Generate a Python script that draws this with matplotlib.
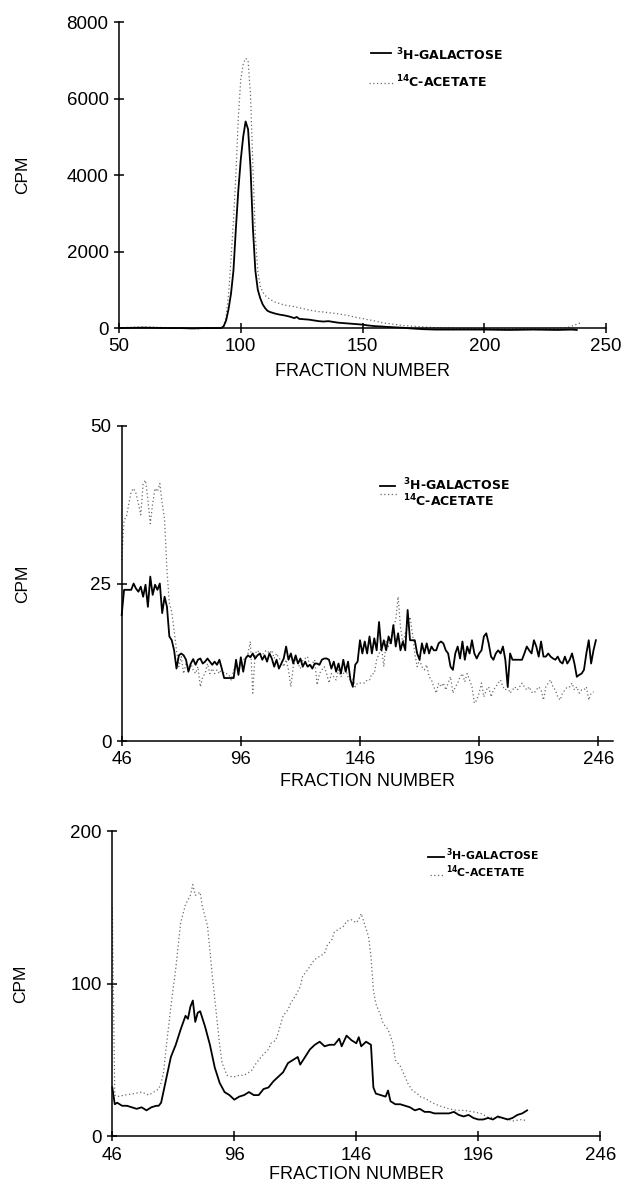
import numpy as np
import matplotlib.pyplot as plt
from matplotlib.lines import Line2D

plt.rcParams['font.family'] = ['Liberation Sans', 'DejaVu Sans']
plt.rcParams['mathtext.fontset'] = 'custom'
plt.rcParams['mathtext.rm'] = 'Liberation Sans'

# ---- panel 1 (fractions 50-250) ----
top_frac_gal = [50, 55, 60, 65, 70, 75, 80, 85, 90, 92, 93, 94, 95, 96, 97, 98, 99, 100,
                101, 102, 103, 104, 105, 106, 107, 108, 109, 110, 111, 112, 114, 116, 118,
                120, 122, 123, 124, 126, 128, 130, 132, 134, 136, 138, 140, 142, 144, 146,
                148, 150, 152, 155, 158, 160, 163, 166, 170, 175, 180, 190, 200, 210, 220,
                230, 236, 238]
top_gal = [0, 5, 10, 5, 0, 0, -10, 0, 0, 0, 50, 200, 500, 900, 1500, 2600, 3600, 4400,
           5000, 5400, 5200, 4200, 2600, 1500, 1000, 780, 620, 520, 450, 420, 380, 350, 330,
           300, 260, 290, 240, 230, 220, 200, 180, 170, 180, 160, 140, 130, 120, 110,
           100, 90, 70, 50, 40, 30, 20, 10, -10, -30, -40, -40, -40, -50, -40,
           -50, -40, -50]

top_frac_ace = [50, 55, 60, 63, 65, 70, 75, 80, 83, 85, 88, 90, 92, 93, 94, 95, 96, 97, 98,
                99, 100, 101, 102, 103, 104, 105, 106, 107, 108, 109, 110, 112, 114, 116,
                118, 120, 122, 124, 126, 128, 130, 132, 134, 136, 138, 140, 142, 144, 146,
                148, 150, 152, 154, 156, 158, 160, 163, 166, 170, 175, 180, 185, 190, 200,
                210, 220, 230, 234, 236, 238, 240]
top_ace = [10, 20, 30, 25, 20, 10, 0, -10, -20, 0, 10, -10, 0, 50, 300, 900, 1800, 2800, 4000,
           5500, 6500, 6900, 7050, 7000, 6100, 4200, 2400, 1500, 1100, 950, 850, 750, 680, 640,
           600, 580, 560, 530, 500, 470, 450, 430, 420, 400, 390, 370, 350, 330, 300,
           270, 250, 220, 200, 170, 140, 120, 100, 70, 50, 30, 10, 0, -10, -20,
           -20, -20, -10, 10, 50, 100, 150]

# ---- panel 2 (one value per fraction, starting at fraction 46) ----
mid_start = 46
mid_gal = [20.0, 24.0, 24.0, 24.0, 24.0, 25.0, 24.2, 23.7, 24.5, 22.9,
           24.8, 21.3, 26.1, 23.2, 24.8, 24.0, 25.0, 20.3, 22.9, 21.3,
           16.6, 16.0, 14.4, 11.5, 13.6, 13.9, 13.6, 12.9, 11.0, 12.3,
           13.0, 12.1, 12.9, 13.1, 12.3, 12.6, 13.1, 12.6, 12.1, 12.6,
           12.1, 12.9, 11.5, 10.0, 10.0, 10.0, 10.0, 10.0, 12.9, 10.5,
           13.3, 11.0, 13.1, 13.6, 13.3, 13.9, 13.1, 13.6, 13.9, 12.9,
           13.6, 12.6, 13.9, 13.1, 11.8, 12.9, 11.5, 12.3, 13.1, 15.0,
           12.9, 13.9, 12.3, 13.6, 12.3, 13.1, 11.8, 12.6, 11.8, 12.1,
           11.5, 12.3, 12.3, 12.1, 12.9, 13.1, 13.1, 12.9, 11.5, 12.6,
           11.0, 12.3, 10.7, 12.9, 11.0, 12.6, 9.7, 8.6, 12.1, 12.6,
           16.0, 13.9, 15.8, 13.9, 16.6, 13.9, 16.3, 14.4, 18.9, 14.4,
           16.0, 14.4, 16.6, 15.5, 18.4, 15.0, 17.1, 14.4, 15.8, 14.4,
           20.8, 16.0, 16.0, 16.0, 13.9, 12.9, 15.5, 13.9, 15.5, 13.9,
           15.0, 14.4, 14.4, 15.5, 15.8, 15.5, 14.4, 13.9, 11.8, 11.3,
           13.9, 15.0, 13.1, 15.8, 12.9, 15.0, 13.9, 16.0, 13.9, 13.1,
           13.9, 14.4, 16.6, 17.1, 15.5, 13.4, 12.9, 13.9, 14.4, 13.9,
           15.0, 12.9, 8.6, 13.9, 12.9, 12.9, 12.9, 12.9, 12.9, 13.9,
           15.0, 14.4, 13.9, 16.0, 15.0, 13.4, 15.8, 13.4, 13.4, 13.9,
           13.4, 13.1, 12.9, 13.4, 12.6, 12.3, 13.4, 12.3, 12.9, 13.9,
           12.3, 10.2, 10.5, 10.7, 11.3, 13.9, 16.0, 12.3, 14.4, 16.0]
mid_ace = [28.7, 35.1, 35.6, 37.7, 39.6, 40.1, 39.3, 37.7, 35.9, 40.9,
           41.4, 38.3, 34.5, 37.7, 40.1, 39.6, 40.9, 37.7, 35.1, 27.1,
           21.9, 20.5, 17.6, 14.4, 11.8, 13.4, 10.7, 12.3, 11.8, 12.3,
           11.3, 10.7, 11.8, 8.6, 10.2, 10.7, 12.3, 10.7, 11.5, 10.7,
           11.3, 10.7, 11.5, 10.7, 10.7, 10.5, 9.7, 11.3, 11.5, 11.8,
           12.1, 12.9, 13.1, 13.9, 15.8, 7.6, 13.9, 14.4, 13.9, 13.6,
           14.2, 14.4, 13.9, 14.4, 13.1, 13.9, 13.1, 12.9, 11.8, 12.9,
           11.3, 8.6, 11.8, 12.9, 12.3, 11.5, 12.9, 13.1, 13.4, 11.8,
           12.3, 12.9, 8.9, 10.7, 11.3, 11.8, 10.7, 9.2, 10.7, 10.2,
           9.7, 11.3, 10.2, 10.7, 11.3, 10.2, 9.7, 9.9, 8.6, 9.2,
           9.2, 9.2, 9.2, 9.7, 9.7, 10.7, 10.7, 12.9, 13.9, 15.0,
           11.8, 16.0, 15.0, 16.0, 18.1, 19.2, 22.9, 18.1, 15.5, 17.1,
           18.1, 19.7, 17.1, 13.9, 11.8, 12.9, 11.8, 11.3, 12.1, 10.2,
           9.7, 8.6, 7.6, 9.2, 8.6, 9.2, 8.1, 9.2, 10.2, 7.6,
           8.6, 9.2, 10.2, 10.7, 9.4, 10.7, 9.7, 8.6, 6.0, 6.5,
           7.6, 9.2, 7.0, 8.1, 8.6, 7.0, 8.1, 8.6, 9.2, 9.7,
           8.6, 8.1, 8.6, 7.6, 8.1, 8.6, 8.1, 8.6, 9.2, 8.6,
           8.1, 8.6, 7.8, 7.6, 8.1, 8.6, 8.1, 6.5, 8.6, 9.2,
           9.7, 8.6, 8.1, 7.0, 6.5, 7.6, 8.1, 8.6, 8.6, 9.2,
           8.1, 8.6, 7.6, 8.1, 8.1, 8.6, 6.5, 7.6, 7.8]

# ---- panel 3 ----
bot_frac_gal = [46, 47, 48, 50, 52, 54, 56, 58, 60, 62, 64, 65, 66, 68, 70, 72, 74, 76, 77,
                78, 79, 80, 81, 82, 84, 86, 88, 90, 92, 94, 96, 98, 100, 102, 104, 106, 108,
                110, 112, 114, 116, 118, 120, 122, 123, 125, 127, 129, 131, 133, 135, 137,
                139, 140, 142, 144, 146, 147, 148, 150, 152, 153, 154, 156, 158, 159, 160,
                162, 164, 166, 168, 170, 172, 174, 176, 178, 180, 182, 184, 186, 188, 190,
                192, 194, 196, 198, 200, 202, 204, 206, 208, 210, 212, 214, 216]
bot_gal = [32, 21, 22, 20, 20, 19, 18, 19, 17, 19, 20, 20, 22, 37, 52, 60, 70, 79, 77,
           85, 89, 75, 81, 82, 72, 60, 45, 35, 29, 27, 24, 26, 27, 29, 27, 27, 31,
           32, 36, 39, 42, 48, 50, 52, 47, 52, 57, 60, 62, 59, 60, 60,
           64, 59, 66, 63, 61, 65, 59, 62, 60, 32, 28, 27, 26, 30, 23,
           21, 21, 20, 19, 17, 18, 16, 16, 15, 15, 15, 15, 16, 14, 13,
           14, 12, 11, 11, 12, 11, 13, 12, 11, 12, 14, 15, 17]

bot_frac_ace = [46, 47, 48, 51, 55, 58, 61, 63, 65, 66, 67, 68, 70, 72, 74, 76, 78, 79, 80,
                82, 83, 85, 86, 87, 88, 89, 90, 91, 93, 95, 96, 98, 100, 101, 103, 105, 106,
                108, 110, 111, 113, 114, 116, 118, 119, 121, 123, 124, 126, 128, 129, 131,
                133, 134, 136, 137, 139, 141, 142, 144, 146, 147, 148, 150, 151, 152, 153,
                154, 156, 157, 159, 161, 162, 164, 166, 167, 169, 171, 172, 174, 177, 180,
                184, 187, 190, 194, 197, 200, 204, 207, 210, 214, 216]
bot_ace = [150, 27, 26, 27, 28, 29, 27, 29, 31, 35, 42, 57, 85, 110, 140, 152, 158, 165, 158,
           160, 150, 138, 122, 105, 90, 75, 60, 48, 40, 39, 39, 40, 40, 41, 43, 48, 50,
           54, 57, 61, 63, 68, 79, 83, 87, 92, 98, 105, 109, 114, 116, 118,
           120, 125, 129, 134, 136, 138, 141, 142, 140, 142, 146, 136, 131, 118, 96,
           87, 79, 74, 70, 61, 50, 46, 39, 35, 30, 28, 26, 25, 22, 20,
           18, 17, 17, 16, 15, 12.5, 12, 12, 10, 11, 10]

gal_label = r'$^{\mathregular{3}}$H-GALACTOSE'
ace_label = r'$^{\mathregular{14}}$C-ACETATE'

fig = plt.figure(figsize=(6.25, 11.83), dpi=100)

# legend: (solid x0, x1, y, dotted x0, x1, y, text x, gal baseline, ace baseline, size)
panels = [
    dict(rect=[0.1904, 0.7227, 0.7792, 0.2587], xlim=(50, 250), ylim=(0, 8000),
         xticks=[50, 100, 150, 200, 250], yticks=[0, 2000, 4000, 6000, 8000],
         gal=(top_frac_gal, top_gal), ace=(top_frac_ace, top_ace),
         leg=(0.518, 0.559, 0.899, 0.514, 0.564, 0.800, 0.569, 0.876, 0.788, 9),
         ylab_x=-0.183, xlab_y=-0.114),
    dict(rect=[0.1947, 0.3736, 0.7854, 0.2663], xlim=(46, 252), ylim=(0, 50),
         xticks=[46, 96, 146, 196, 246], yticks=[0, 25, 50],
         gal=(np.arange(mid_start, mid_start + len(mid_gal)), mid_gal),
         ace=(np.arange(mid_start, mid_start + len(mid_ace)), mid_ace),
         leg=(0.526, 0.557, 0.810, 0.526, 0.561, 0.784, 0.573, 0.797, 0.746, 9),
         ylab_x=-0.187, xlab_y=-0.102),
    dict(rect=[0.1797, 0.0395, 0.7808, 0.2578], xlim=(46, 246), ylim=(0, 200),
         xticks=[46, 96, 146, 196, 246], yticks=[0, 100, 200],
         gal=(bot_frac_gal, bot_gal), ace=(bot_frac_ace, bot_ace),
         leg=(0.647, 0.680, 0.916, 0.651, 0.680, 0.857, 0.684, 0.906, 0.850, 7.8),
         ylab_x=-0.173, xlab_y=-0.097),
]

for p in panels:
    ax = fig.add_axes(p['rect'])
    ax.plot(*p['ace'], color='#6a6a6a', lw=0.9, ls=(0, (1, 2)), clip_on=False)
    ax.plot(*p['gal'], color='black', lw=1.3, clip_on=False)
    ax.set_xlim(p['xlim'])
    ax.set_ylim(p['ylim'])
    ax.set_xticks(p['xticks'])
    ax.set_yticks(p['yticks'])
    for s in ['top', 'right']:
        ax.spines[s].set_visible(False)
    for s in ['left', 'bottom']:
        ax.spines[s].set_linewidth(1.1)
    ax.tick_params(direction='inout', length=7, width=1.1, labelsize=13.5, pad=4)
    ax.set_xlabel('FRACTION NUMBER', fontsize=13)
    ax.set_ylabel('CPM', fontsize=12.5)
    ax.xaxis.set_label_coords(0.5, p['xlab_y'])
    ax.xaxis.label.set_va('top')
    ax.yaxis.set_label_coords(p['ylab_x'], 0.5)

    gx0, gx1, gy, ax0, ax1, ay, tx, gb, ab, fs = p['leg']
    ax.add_line(Line2D([gx0, gx1], [gy, gy], color='black', lw=1.3, transform=ax.transAxes))
    ax.add_line(Line2D([ax0, ax1], [ay, ay], color='#6a6a6a', lw=0.9, ls=(0, (1, 2)),
                       transform=ax.transAxes))
    ax.text(tx, gb, gal_label, transform=ax.transAxes, fontsize=fs, va='baseline',
            family='DejaVu Sans', fontweight='bold')
    ax.text(tx, ab, ace_label, transform=ax.transAxes, fontsize=fs, va='baseline',
            family='DejaVu Sans', fontweight='bold')

fig.savefig('out.png', dpi=100)
